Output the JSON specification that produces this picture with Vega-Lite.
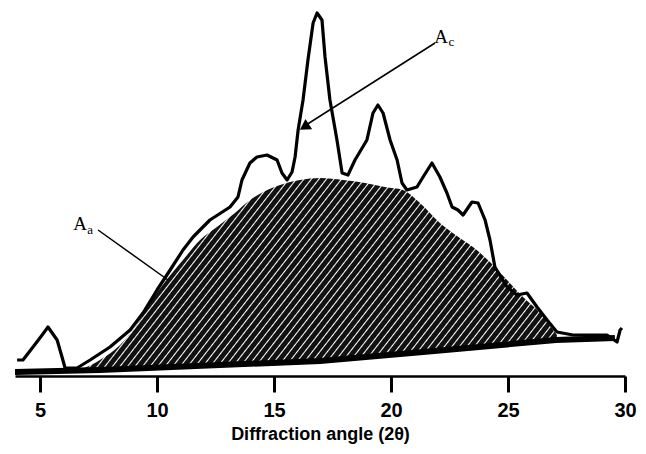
{
  "$schema": "https://vega.github.io/schema/vega-lite/v6.json",
  "width": 610,
  "height": 376,
  "autosize": {"type": "none"},
  "padding": {"left": 15, "top": 0, "right": 21, "bottom": 78},
  "background": "white",
  "config": {"view": {"stroke": null}},
  "datasets": {
    "pattern": [
      {"angle": 4.02, "intensity": 16}, {"angle": 4.27, "intensity": 16}, {"angle": 4.70, "intensity": 29},
      {"angle": 5.09, "intensity": 41}, {"angle": 5.34, "intensity": 49}, {"angle": 5.73, "intensity": 36},
      {"angle": 5.94, "intensity": 19}, {"angle": 6.07, "intensity": 8}, {"angle": 6.58, "intensity": 8},
      {"angle": 7.14, "intensity": 16}, {"angle": 7.99, "intensity": 29}, {"angle": 8.85, "intensity": 46},
      {"angle": 9.40, "intensity": 63}, {"angle": 10.00, "intensity": 86}, {"angle": 10.56, "intensity": 106},
      {"angle": 11.11, "intensity": 126}, {"angle": 11.54, "intensity": 139}, {"angle": 12.26, "intensity": 156},
      {"angle": 13.12, "intensity": 169}, {"angle": 13.46, "intensity": 179}, {"angle": 13.63, "intensity": 196},
      {"angle": 13.97, "intensity": 213}, {"angle": 14.27, "intensity": 219}, {"angle": 14.70, "intensity": 221},
      {"angle": 15.13, "intensity": 216}, {"angle": 15.34, "intensity": 203}, {"angle": 15.56, "intensity": 196},
      {"angle": 15.77, "intensity": 204}, {"angle": 15.90, "intensity": 219}, {"angle": 16.03, "intensity": 246},
      {"angle": 16.24, "intensity": 276}, {"angle": 16.45, "intensity": 316}, {"angle": 16.67, "intensity": 353},
      {"angle": 16.84, "intensity": 363}, {"angle": 17.05, "intensity": 356}, {"angle": 17.18, "intensity": 319},
      {"angle": 17.39, "intensity": 276}, {"angle": 17.69, "intensity": 236}, {"angle": 17.91, "intensity": 203},
      {"angle": 18.16, "intensity": 201}, {"angle": 18.46, "intensity": 216}, {"angle": 18.97, "intensity": 236},
      {"angle": 19.23, "intensity": 263}, {"angle": 19.44, "intensity": 271}, {"angle": 19.66, "intensity": 263},
      {"angle": 19.96, "intensity": 236}, {"angle": 20.26, "intensity": 216}, {"angle": 20.47, "intensity": 193},
      {"angle": 20.68, "intensity": 186}, {"angle": 21.11, "intensity": 189}, {"angle": 21.37, "intensity": 199},
      {"angle": 21.75, "intensity": 213}, {"angle": 22.09, "intensity": 199}, {"angle": 22.39, "intensity": 183},
      {"angle": 22.61, "intensity": 169}, {"angle": 22.86, "intensity": 166}, {"angle": 23.08, "intensity": 161},
      {"angle": 23.46, "intensity": 174}, {"angle": 23.72, "intensity": 173}, {"angle": 24.02, "intensity": 156},
      {"angle": 24.23, "intensity": 136}, {"angle": 24.44, "intensity": 109}, {"angle": 24.96, "intensity": 89},
      {"angle": 25.38, "intensity": 81}, {"angle": 25.81, "intensity": 83}, {"angle": 26.24, "intensity": 69},
      {"angle": 26.67, "intensity": 56}, {"angle": 27.09, "intensity": 44}, {"angle": 27.78, "intensity": 41},
      {"angle": 28.50, "intensity": 41}, {"angle": 29.23, "intensity": 41}, {"angle": 29.66, "intensity": 34},
      {"angle": 29.79, "intensity": 46}, {"angle": 29.87, "intensity": 48}
    ],
    "halo": [
      {"angle": 6.71, "intensity": 6, "base": 5}, {"angle": 7.56, "intensity": 16, "base": 6},
      {"angle": 8.42, "intensity": 31, "base": 7}, {"angle": 9.27, "intensity": 56, "base": 8},
      {"angle": 9.70, "intensity": 73, "base": 8}, {"angle": 10.34, "intensity": 94, "base": 9},
      {"angle": 11.11, "intensity": 116, "base": 10}, {"angle": 11.84, "intensity": 136, "base": 10},
      {"angle": 12.56, "intensity": 149, "base": 11}, {"angle": 13.33, "intensity": 163, "base": 12},
      {"angle": 13.97, "intensity": 176, "base": 12}, {"angle": 14.62, "intensity": 185, "base": 13},
      {"angle": 15.26, "intensity": 191, "base": 14}, {"angle": 16.11, "intensity": 196, "base": 14},
      {"angle": 16.97, "intensity": 198, "base": 15}, {"angle": 17.95, "intensity": 196, "base": 17},
      {"angle": 18.89, "intensity": 193, "base": 19}, {"angle": 19.74, "intensity": 189, "base": 21},
      {"angle": 20.51, "intensity": 186, "base": 22}, {"angle": 21.24, "intensity": 173, "base": 24},
      {"angle": 22.09, "intensity": 153, "base": 25}, {"angle": 22.82, "intensity": 140, "base": 27},
      {"angle": 23.50, "intensity": 129, "base": 28}, {"angle": 24.23, "intensity": 114, "base": 30},
      {"angle": 24.96, "intensity": 96, "base": 31}, {"angle": 25.64, "intensity": 79, "base": 33},
      {"angle": 26.37, "intensity": 63, "base": 34}, {"angle": 27.09, "intensity": 41, "base": 36}
    ],
    "baseline": [
      {"angle": 3.93, "intensity": 4}, {"angle": 7.56, "intensity": 6}, {"angle": 16.97, "intensity": 15},
      {"angle": 21.37, "intensity": 24}, {"angle": 27.05, "intensity": 36}, {"angle": 29.57, "intensity": 38}
    ],
    "leaders": [
      {"angle": 7.48, "intensity": 146, "angle2": 10.47, "intensity2": 96},
      {"angle": 21.88, "intensity": 333, "angle2": 16.30, "intensity2": 250}
    ],
    "arrowheads": [{"angle": 16.36, "intensity": 250}],
    "letters": [
      {"angle": 6.71, "intensity": 146, "label": "A"},
      {"angle": 22.14, "intensity": 333, "label": "A"}
    ],
    "subscripts": [
      {"angle": 7.14, "intensity": 142, "label": "a"},
      {"angle": 22.58, "intensity": 330, "label": "c"}
    ]
  },
  "layer": [
    {
      "data": {"name": "halo"},
      "mark": {
        "type": "area",
        "interpolate": "monotone",
        "fill": {
          "gradient": "linear", "x1": 0, "y1": 0, "x2": 1.197, "y2": 0.378,
          "stops": [
            {"offset":0,"color":"#111"},{"offset":0.0078,"color":"#111"},{"offset":0.0099,"color":"#fff"},
            {"offset":0.012,"color":"#111"},{"offset":0.0198,"color":"#111"},{"offset":0.0219,"color":"#fff"},
            {"offset":0.024,"color":"#111"},{"offset":0.0318,"color":"#111"},{"offset":0.0339,"color":"#fff"},
            {"offset":0.036,"color":"#111"},{"offset":0.0438,"color":"#111"},{"offset":0.0459,"color":"#fff"},
            {"offset":0.048,"color":"#111"},{"offset":0.0558,"color":"#111"},{"offset":0.0579,"color":"#fff"},
            {"offset":0.06,"color":"#111"},{"offset":0.0678,"color":"#111"},{"offset":0.0699,"color":"#fff"},
            {"offset":0.072,"color":"#111"},{"offset":0.0798,"color":"#111"},{"offset":0.0819,"color":"#fff"},
            {"offset":0.084,"color":"#111"},{"offset":0.0918,"color":"#111"},{"offset":0.0939,"color":"#fff"},
            {"offset":0.096,"color":"#111"},{"offset":0.1038,"color":"#111"},{"offset":0.1059,"color":"#fff"},
            {"offset":0.108,"color":"#111"},{"offset":0.1158,"color":"#111"},{"offset":0.1179,"color":"#fff"},
            {"offset":0.12,"color":"#111"},{"offset":0.1278,"color":"#111"},{"offset":0.1299,"color":"#fff"},
            {"offset":0.132,"color":"#111"},{"offset":0.1398,"color":"#111"},{"offset":0.1419,"color":"#fff"},
            {"offset":0.144,"color":"#111"},{"offset":0.1518,"color":"#111"},{"offset":0.1539,"color":"#fff"},
            {"offset":0.156,"color":"#111"},{"offset":0.1638,"color":"#111"},{"offset":0.1659,"color":"#fff"},
            {"offset":0.168,"color":"#111"},{"offset":0.1758,"color":"#111"},{"offset":0.1779,"color":"#fff"},
            {"offset":0.18,"color":"#111"},{"offset":0.1878,"color":"#111"},{"offset":0.1899,"color":"#fff"},
            {"offset":0.192,"color":"#111"},{"offset":0.1998,"color":"#111"},{"offset":0.2019,"color":"#fff"},
            {"offset":0.204,"color":"#111"},{"offset":0.2118,"color":"#111"},{"offset":0.2139,"color":"#fff"},
            {"offset":0.216,"color":"#111"},{"offset":0.2238,"color":"#111"},{"offset":0.2259,"color":"#fff"},
            {"offset":0.228,"color":"#111"},{"offset":0.2358,"color":"#111"},{"offset":0.2379,"color":"#fff"},
            {"offset":0.24,"color":"#111"},{"offset":0.2478,"color":"#111"},{"offset":0.2499,"color":"#fff"},
            {"offset":0.252,"color":"#111"},{"offset":0.2598,"color":"#111"},{"offset":0.2619,"color":"#fff"},
            {"offset":0.264,"color":"#111"},{"offset":0.2718,"color":"#111"},{"offset":0.2739,"color":"#fff"},
            {"offset":0.276,"color":"#111"},{"offset":0.2838,"color":"#111"},{"offset":0.2859,"color":"#fff"},
            {"offset":0.288,"color":"#111"},{"offset":0.2958,"color":"#111"},{"offset":0.2979,"color":"#fff"},
            {"offset":0.3,"color":"#111"},{"offset":0.3078,"color":"#111"},{"offset":0.3099,"color":"#fff"},
            {"offset":0.312,"color":"#111"},{"offset":0.3198,"color":"#111"},{"offset":0.3219,"color":"#fff"},
            {"offset":0.324,"color":"#111"},{"offset":0.3318,"color":"#111"},{"offset":0.3339,"color":"#fff"},
            {"offset":0.336,"color":"#111"},{"offset":0.3438,"color":"#111"},{"offset":0.3459,"color":"#fff"},
            {"offset":0.348,"color":"#111"},{"offset":0.3558,"color":"#111"},{"offset":0.3579,"color":"#fff"},
            {"offset":0.36,"color":"#111"},{"offset":0.3678,"color":"#111"},{"offset":0.3699,"color":"#fff"},
            {"offset":0.372,"color":"#111"},{"offset":0.3798,"color":"#111"},{"offset":0.3819,"color":"#fff"},
            {"offset":0.384,"color":"#111"},{"offset":0.3918,"color":"#111"},{"offset":0.3939,"color":"#fff"},
            {"offset":0.396,"color":"#111"},{"offset":0.4038,"color":"#111"},{"offset":0.4059,"color":"#fff"},
            {"offset":0.408,"color":"#111"},{"offset":0.4158,"color":"#111"},{"offset":0.4179,"color":"#fff"},
            {"offset":0.42,"color":"#111"},{"offset":0.4278,"color":"#111"},{"offset":0.4299,"color":"#fff"},
            {"offset":0.432,"color":"#111"},{"offset":0.4398,"color":"#111"},{"offset":0.4419,"color":"#fff"},
            {"offset":0.444,"color":"#111"},{"offset":0.4518,"color":"#111"},{"offset":0.4539,"color":"#fff"},
            {"offset":0.456,"color":"#111"},{"offset":0.4638,"color":"#111"},{"offset":0.4659,"color":"#fff"},
            {"offset":0.468,"color":"#111"},{"offset":0.4758,"color":"#111"},{"offset":0.4779,"color":"#fff"},
            {"offset":0.48,"color":"#111"},{"offset":0.4878,"color":"#111"},{"offset":0.4899,"color":"#fff"},
            {"offset":0.492,"color":"#111"},{"offset":0.4998,"color":"#111"},{"offset":0.5019,"color":"#fff"},
            {"offset":0.504,"color":"#111"},{"offset":0.5118,"color":"#111"},{"offset":0.5139,"color":"#fff"},
            {"offset":0.516,"color":"#111"},{"offset":0.5238,"color":"#111"},{"offset":0.5259,"color":"#fff"},
            {"offset":0.528,"color":"#111"},{"offset":0.5358,"color":"#111"},{"offset":0.5379,"color":"#fff"},
            {"offset":0.54,"color":"#111"},{"offset":0.5478,"color":"#111"},{"offset":0.5499,"color":"#fff"},
            {"offset":0.552,"color":"#111"},{"offset":0.5598,"color":"#111"},{"offset":0.5619,"color":"#fff"},
            {"offset":0.564,"color":"#111"},{"offset":0.5718,"color":"#111"},{"offset":0.5739,"color":"#fff"},
            {"offset":0.576,"color":"#111"},{"offset":0.5838,"color":"#111"},{"offset":0.5859,"color":"#fff"},
            {"offset":0.588,"color":"#111"},{"offset":0.5958,"color":"#111"},{"offset":0.5979,"color":"#fff"},
            {"offset":0.6,"color":"#111"},{"offset":0.6078,"color":"#111"},{"offset":0.6099,"color":"#fff"},
            {"offset":0.612,"color":"#111"},{"offset":0.6198,"color":"#111"},{"offset":0.6219,"color":"#fff"},
            {"offset":0.624,"color":"#111"},{"offset":0.6318,"color":"#111"},{"offset":0.6339,"color":"#fff"},
            {"offset":0.636,"color":"#111"},{"offset":0.6438,"color":"#111"},{"offset":0.6459,"color":"#fff"},
            {"offset":0.648,"color":"#111"},{"offset":0.6558,"color":"#111"},{"offset":0.6579,"color":"#fff"},
            {"offset":0.66,"color":"#111"},{"offset":0.6678,"color":"#111"},{"offset":0.6699,"color":"#fff"},
            {"offset":0.672,"color":"#111"},{"offset":0.6798,"color":"#111"},{"offset":0.6819,"color":"#fff"},
            {"offset":0.684,"color":"#111"},{"offset":0.6918,"color":"#111"},{"offset":0.6939,"color":"#fff"},
            {"offset":0.696,"color":"#111"},{"offset":0.7038,"color":"#111"},{"offset":0.7059,"color":"#fff"},
            {"offset":0.708,"color":"#111"},{"offset":0.7158,"color":"#111"},{"offset":0.7179,"color":"#fff"},
            {"offset":0.72,"color":"#111"},{"offset":0.7278,"color":"#111"},{"offset":0.7299,"color":"#fff"},
            {"offset":0.732,"color":"#111"},{"offset":0.7398,"color":"#111"},{"offset":0.7419,"color":"#fff"},
            {"offset":0.744,"color":"#111"},{"offset":0.7518,"color":"#111"},{"offset":0.7539,"color":"#fff"},
            {"offset":0.756,"color":"#111"},{"offset":0.7638,"color":"#111"},{"offset":0.7659,"color":"#fff"},
            {"offset":0.768,"color":"#111"},{"offset":0.7758,"color":"#111"},{"offset":0.7779,"color":"#fff"},
            {"offset":0.78,"color":"#111"},{"offset":0.7878,"color":"#111"},{"offset":0.7899,"color":"#fff"},
            {"offset":0.792,"color":"#111"},{"offset":0.7998,"color":"#111"},{"offset":0.8019,"color":"#fff"},
            {"offset":0.804,"color":"#111"},{"offset":0.8118,"color":"#111"},{"offset":0.8139,"color":"#fff"},
            {"offset":0.816,"color":"#111"},{"offset":0.8238,"color":"#111"},{"offset":0.8259,"color":"#fff"},
            {"offset":0.828,"color":"#111"},{"offset":0.8358,"color":"#111"},{"offset":0.8379,"color":"#fff"},
            {"offset":0.84,"color":"#111"},{"offset":0.8478,"color":"#111"},{"offset":0.8499,"color":"#fff"},
            {"offset":0.852,"color":"#111"},{"offset":0.8598,"color":"#111"},{"offset":0.8619,"color":"#fff"},
            {"offset":0.864,"color":"#111"},{"offset":0.8718,"color":"#111"},{"offset":0.8739,"color":"#fff"},
            {"offset":0.876,"color":"#111"},{"offset":0.8838,"color":"#111"},{"offset":0.8859,"color":"#fff"},
            {"offset":0.888,"color":"#111"},{"offset":0.8958,"color":"#111"},{"offset":0.8979,"color":"#fff"},
            {"offset":0.9,"color":"#111"},{"offset":0.9078,"color":"#111"},{"offset":0.9099,"color":"#fff"},
            {"offset":0.912,"color":"#111"},{"offset":0.9198,"color":"#111"},{"offset":0.9219,"color":"#fff"},
            {"offset":0.924,"color":"#111"},{"offset":0.9318,"color":"#111"},{"offset":0.9339,"color":"#fff"},
            {"offset":0.936,"color":"#111"},{"offset":0.9438,"color":"#111"},{"offset":0.9459,"color":"#fff"},
            {"offset":0.948,"color":"#111"},{"offset":0.9558,"color":"#111"},{"offset":0.9579,"color":"#fff"},
            {"offset":0.96,"color":"#111"},{"offset":0.9678,"color":"#111"},{"offset":0.9699,"color":"#fff"},
            {"offset":0.972,"color":"#111"},{"offset":0.9798,"color":"#111"},{"offset":0.9819,"color":"#fff"},
            {"offset":0.984,"color":"#111"},{"offset":0.9918,"color":"#111"},{"offset":0.9939,"color":"#fff"},
            {"offset":0.996,"color":"#111"},{"offset":1,"color":"#111"}
          ]
        }
      },
      "encoding": {
        "x": {
          "field": "angle", "type": "quantitative",
          "scale": {"domain": [3.93, 30], "nice": false, "zero": false},
          "axis": {
            "title": "Diffraction angle (2θ)",
            "values": [5, 10, 15, 20, 25, 30],
            "grid": false,
            "domainColor": "#000", "domainWidth": 2.5,
            "tickColor": "#000", "tickWidth": 3, "tickSize": 16,
            "labelFont": "Liberation Sans", "labelFontSize": 20, "labelColor": "#000",
            "labelFontWeight": "bold",
            "labelPadding": 8, "labelFlush": false,
            "titleFont": "Liberation Sans", "titleFontSize": 18, "titleFontWeight": "bold",
            "titleColor": "#000", "titlePadding": 5
          }
        },
        "y": {
          "field": "intensity", "type": "quantitative",
          "scale": {"domain": [0, 376], "nice": false},
          "axis": null
        },
        "y2": {"field": "base"}
      }
    },
    {
      "data": {"name": "baseline"},
      "mark": {"type": "line", "color": "#000", "strokeWidth": 6},
      "encoding": {
        "x": {"field": "angle", "type": "quantitative"},
        "y": {"field": "intensity", "type": "quantitative"}
      }
    },
    {
      "data": {"name": "pattern"},
      "mark": {"type": "line", "color": "#000", "strokeWidth": 3.2, "strokeJoin": "round"},
      "encoding": {
        "x": {"field": "angle", "type": "quantitative"},
        "y": {"field": "intensity", "type": "quantitative"}
      }
    },
    {
      "data": {"name": "leaders"},
      "mark": {"type": "rule", "color": "#000", "strokeWidth": 1.5},
      "encoding": {
        "x": {"field": "angle", "type": "quantitative"},
        "y": {"field": "intensity", "type": "quantitative"},
        "x2": {"field": "angle2"},
        "y2": {"field": "intensity2"}
      }
    },
    {
      "data": {"name": "arrowheads"},
      "mark": {"type": "point", "shape": "triangle", "filled": true, "color": "#000", "size": 150, "angle": 237, "opacity": 1},
      "encoding": {
        "x": {"field": "angle", "type": "quantitative"},
        "y": {"field": "intensity", "type": "quantitative"}
      }
    },
    {
      "data": {"name": "letters"},
      "mark": {"type": "text", "font": "Liberation Serif", "fontSize": 19, "color": "#000", "align": "center", "baseline": "alphabetic"},
      "encoding": {
        "x": {"field": "angle", "type": "quantitative"},
        "y": {"field": "intensity", "type": "quantitative"},
        "text": {"field": "label"}
      }
    },
    {
      "data": {"name": "subscripts"},
      "mark": {"type": "text", "font": "Liberation Serif", "fontSize": 13, "color": "#000", "align": "center", "baseline": "alphabetic"},
      "encoding": {
        "x": {"field": "angle", "type": "quantitative"},
        "y": {"field": "intensity", "type": "quantitative"},
        "text": {"field": "label"}
      }
    }
  ]
}
